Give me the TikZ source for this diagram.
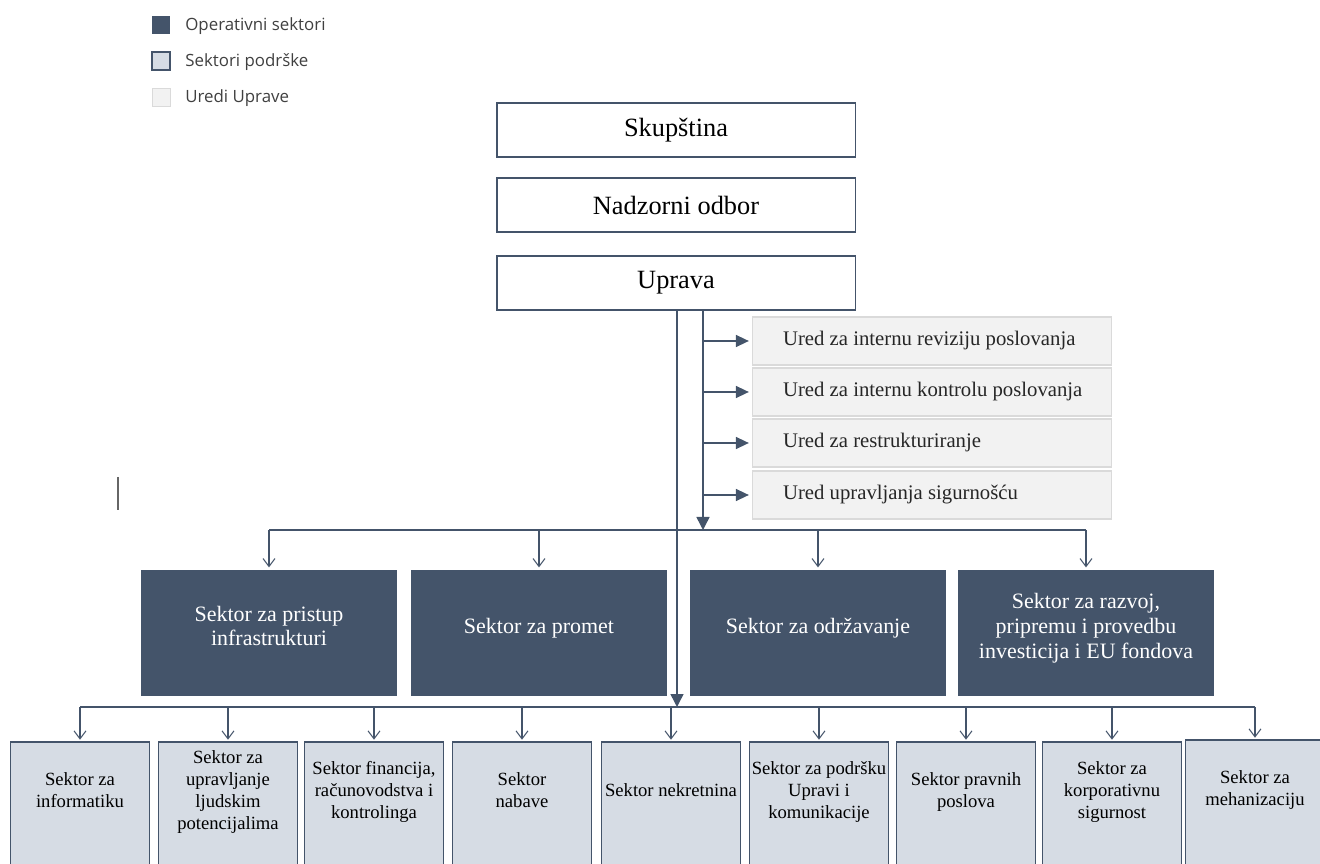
\documentclass[tikz,border=0pt]{standalone}
\usepackage{fontspec}
\setmainfont{Liberation Serif}
\newfontfamily\legendfont{Open Sans}
\usepackage{xcolor}
\usetikzlibrary{arrows.meta}
\definecolor{custom_navy}{HTML}{44546A}
\definecolor{custom_light}{HTML}{D6DCE4}
\definecolor{custom_grey}{HTML}{F2F2F2}
\definecolor{custom_edge}{HTML}{DADADA}
\definecolor{custom_text}{HTML}{404040}

\begin{document}
\begin{tikzpicture}[
            x=0.02cm,
            y=-0.02cm,
            topbox/.style={draw=custom_navy, line width=1.1pt, fill=white,
                minimum width=7.18cm, minimum height=1.08cm, inner sep=0pt,
                font=\fontsize{15pt}{17pt}\selectfont},
            uredbox/.style={draw=custom_edge, line width=0.6pt, fill=custom_grey,
                text width=6.58cm, inner xsep=0.31cm, inner ysep=0pt,
                minimum height=0.96cm, align=flush left, text=black!85,
                execute at begin node={\hspace*{0.31cm}},
                font=\fontsize{11.8pt}{14pt}\selectfont},
            opbox/.style={fill=custom_navy, text=white, minimum width=5.14cm,
                minimum height=2.54cm, inner sep=0pt, align=center, text depth=8pt,
                font=\fontsize{12.5pt}{14pt}\selectfont},
            supbox/.style={draw=custom_navy, line width=0.6pt, fill=custom_light,
                minimum width=2.78cm, minimum height=2.56cm, inner sep=0pt,
                align=center, text depth=18pt, text=black,
                font=\fontsize{10.6pt}{12.4pt}\selectfont},
            legbox/.style={minimum size=0.36cm, inner sep=0pt},
            legtext/.style={anchor=west, text=custom_text, inner sep=0pt,
                font=\legendfont\fontsize{9.6pt}{11pt}\selectfont},
            trunk/.style={draw=custom_navy, line width=0.85pt,
                -{Triangle[length=0.26cm, width=0.26cm]}},
            branch/.style={draw=custom_navy, line width=0.85pt, shorten >=1.5pt,
                -{Triangle[length=0.26cm, width=0.24cm]}},
            bus/.style={draw=custom_navy, line width=0.6pt},
            openarrow/.style={draw=custom_navy, line width=0.6pt, shorten >=1pt,
                -{Straight Barb[length=0.16cm, width=0.24cm]}}
        ]
            \useasboundingbox (0,0) rectangle (1320,864);

            % Legend
            \node[legbox, fill=custom_navy] (leg1) at (161,25) {};
            \node[legbox, fill=custom_light, draw=custom_navy, line width=0.6pt] (leg2) at (161,61) {};
            \node[legbox, fill=custom_grey, draw=custom_grey!90!black, line width=0.3pt] (leg3) at (161,97) {};
            \node[legtext] (legt1) at (185,26) {Operativni sektori};
            \node[legtext] (legt2) at (185,62) {Sektori podrške};
            \node[legtext] (legt3) at (185,98) {Uredi Uprave};

            % Top of the organisation
            \node[topbox] (skup) at (676,130) {Skupština};
            \node[topbox] (nadzor) at (676,205) {Nadzorni odbor};
            \node[topbox] (uprava) at (676,283) {Uprava};

            % Offices of the board
            \node[uredbox] (ured1) at (932,341) {Ured za internu reviziju poslovanja};
            \node[uredbox] (ured2) at (932,392) {Ured za internu kontrolu poslovanja};
            \node[uredbox] (ured3) at (932,443) {Ured za restrukturiranje};
            \node[uredbox] (ured4) at (932,495) {Ured upravljanja sigurnošću};

            % Bus points
            \coordinate (opbus) at (703,530);
            \coordinate (supbus) at (677,707);

            % Operative sectors
            \node[opbox] (op1) at (269,633) {Sektor za pristup\\infrastrukturi};
            \node[opbox] (op2) at (539,633) {Sektor za promet};
            \node[opbox] (op3) at (818,633) {Sektor za održavanje};
            \node[opbox] (op4) at (1086,633) {Sektor za razvoj,\\pripremu i provedbu\\investicija i EU fondova};

            % Support sectors
            \node[supbox] (sup1) at (80,806) {Sektor za\\informatiku};
            \node[supbox] (sup2) at (228,806) {Sektor za\\upravljanje\\ljudskim\\potencijalima};
            \node[supbox] (sup3) at (374,806) {Sektor financija,\\računovodstva i\\kontrolinga};
            \node[supbox] (sup4) at (522,806) {Sektor\\nabave};
            \node[supbox] (sup5) at (671,806) {Sektor nekretnina};
            \node[supbox] (sup6) at (819,806) {Sektor za podršku\\Upravi i\\komunikacije};
            \node[supbox] (sup7) at (966,806) {Sektor pravnih\\poslova};
            \node[supbox] (sup8) at (1112,806) {Sektor za\\korporativnu\\sigurnost};
            \node[supbox] (sup9) at (1255,804) {Sektor za\\mehanizaciju};

            % Trunks from the board
            \draw[trunk] (uprava.south -| supbus) -- (supbus);
            \draw[trunk] (uprava.south -| opbus) -- (opbus);
            \foreach \u in {ured1,ured2,ured3,ured4}
                \draw[branch] (\u.west -| opbus) -- (\u.west);

            % Buses
            \draw[bus] (op1.north |- opbus) -- (op4.north |- opbus);
            \foreach \i in {1,...,4}
                \draw[openarrow] (op\i.north |- opbus) -- (op\i.north);
            \draw[bus] (sup1.north |- supbus) -- (sup9.north |- supbus);
            \foreach \i in {1,...,9}
                \draw[openarrow] (sup\i.north |- supbus) -- (sup\i.north);

            % Stray mark
            \draw[black!60, line width=1pt] (118,477) -- (118,510);
        \end{tikzpicture}
\end{document}
